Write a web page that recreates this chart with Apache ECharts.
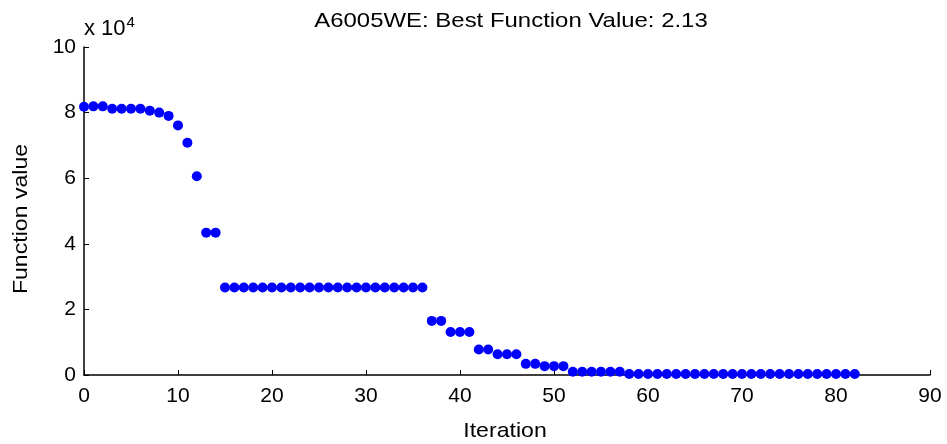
<!DOCTYPE html>
<html>
<head>
<meta charset="utf-8">
<script src="https://cdn.jsdelivr.net/npm/echarts@6/dist/echarts.min.js"></script>
<style>
  html, body { margin: 0; padding: 0; background: #fff; }
  #chart { width: 947px; height: 444px; }
</style>
</head>
<body>
<div id="chart"></div>
<script>
// function value per iteration, in units of 1e4
var iterations = [];
for (var i = 0; i <= 82; i++) iterations.push(i);
var fvals = [
  8.18, 8.19, 8.19, 8.12, 8.12, 8.12, 8.12, 8.06, 8.00, 7.90,
  7.61, 7.08, 6.06, 4.34, 4.34,
  2.67, 2.67, 2.67, 2.67, 2.67, 2.67, 2.67, 2.67, 2.67, 2.67, 2.67,
  2.67, 2.67, 2.67, 2.67, 2.67, 2.67, 2.67, 2.67, 2.67, 2.67, 2.67,
  1.65, 1.65, 1.31, 1.31, 1.31, 0.78, 0.78, 0.63, 0.63, 0.63,
  0.34, 0.34, 0.27, 0.27, 0.27,
  0.10, 0.10, 0.10, 0.10, 0.10, 0.10,
  0.03, 0.03, 0.03, 0.03, 0.03, 0.03, 0.03, 0.03, 0.03, 0.03,
  0.03, 0.03, 0.03, 0.03, 0.03, 0.03, 0.03, 0.03, 0.03, 0.03,
  0.03, 0.03, 0.03, 0.03, 0.03
];
var titleText = "A6005WE: Best Function Value: 2.13";
var xName = "Iteration";
var yName = "Function value";

var points = [];
for (var k = 0; k < fvals.length; k++) {
  points.push([iterations[k], fvals[k]]);
}

var font = "Liberation Sans, Arial, sans-serif";
var chart = echarts.init(document.getElementById("chart"));
var option = {
  backgroundColor: "#fff",
  animation: false,
  grid: { left: 84, right: 17, top: 47, bottom: 69 },
  xAxis: {
    type: "value",
    min: 0,
    max: 90,
    interval: 10,
    axisLine: { lineStyle: { color: "#000", width: 1.5 } },
    axisTick: { inside: true, length: 5, lineStyle: { color: "#000" } },
    axisLabel: { fontFamily: font, fontSize: 21, color: "#000", margin: 11 },
    splitLine: { show: false }
  },
  yAxis: {
    type: "value",
    min: 0,
    max: 10,
    interval: 2,
    name: "{a|x 10}{s|4}",
    nameLocation: "end",
    nameGap: 4,
    nameTextStyle: {
      align: "left",
      rich: {
        a: { fontFamily: font, fontSize: 22, color: "#000" },
        s: { fontFamily: font, fontSize: 15, color: "#000", verticalAlign: "top", padding: [0, 0, 13, 1] }
      }
    },
    axisLine: { show: true, lineStyle: { color: "#000", width: 1.5 } },
    axisTick: { show: true, inside: true, length: 5, lineStyle: { color: "#000" } },
    axisLabel: { fontFamily: font, fontSize: 21, color: "#000", margin: 8 },
    splitLine: { show: false }
  },
  graphic: [{
    type: "text",
    x: 511,
    y: 21,
    scaleX: 1.14,
    style: {
      text: titleText,
      font: "21px " + font,
      fill: "#000",
      align: "center",
      verticalAlign: "middle"
    }
  }, {
    type: "text",
    x: 505,
    y: 431,
    scaleX: 1.1,
    style: {
      text: xName,
      font: "21px " + font,
      fill: "#000",
      align: "center",
      verticalAlign: "middle"
    }
  }, {
    type: "text",
    x: 21,
    y: 219,
    rotation: Math.PI / 2,
    scaleX: 1.1,
    style: {
      text: yName,
      font: "21px " + font,
      fill: "#000",
      align: "center",
      verticalAlign: "middle"
    }
  }],
  series: [{
    type: "scatter",
    data: points,
    symbol: "circle",
    symbolSize: 10,
    itemStyle: { color: "#0000ff", opacity: 1 }
  }]
};
chart.setOption(option);
</script>
</body>
</html>
